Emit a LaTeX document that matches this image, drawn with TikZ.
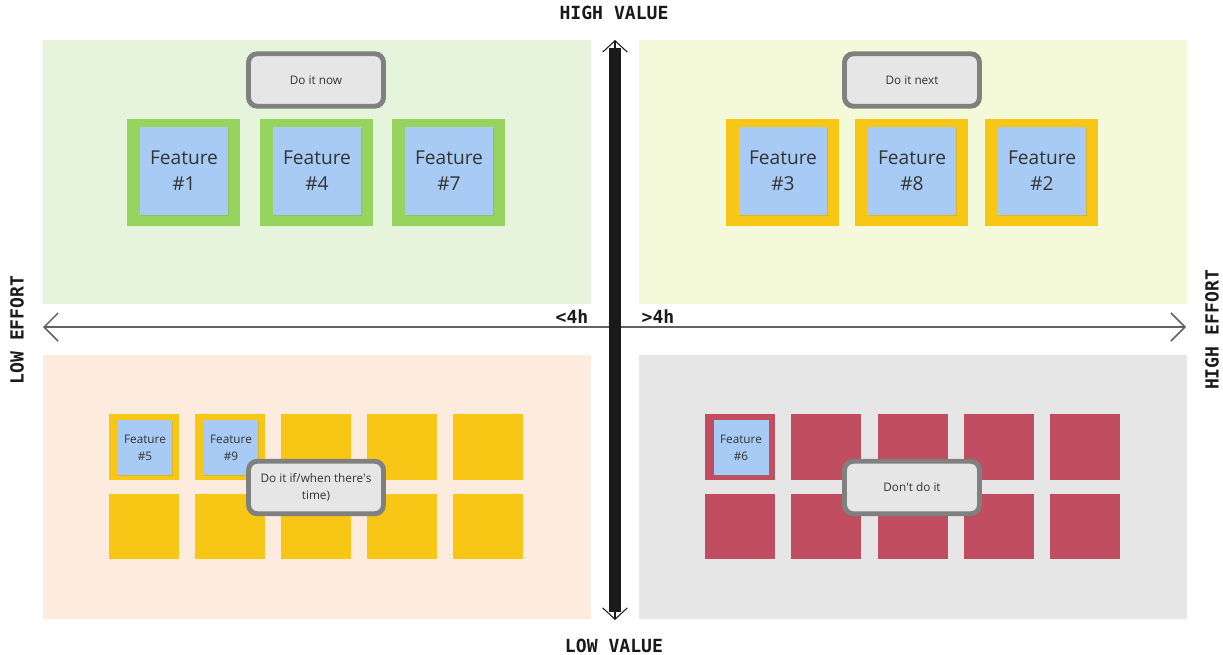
\documentclass[tikz,border=0pt]{standalone}
\usepackage{fontspec}
\setmainfont{Open Sans}
\setmonofont{DejaVu Sans Mono}
\usetikzlibrary{arrows.meta,shadows}

\definecolor{nowbg}{HTML}{E7F4DC}
\definecolor{nextbg}{HTML}{F4F9DA}
\definecolor{laterbg}{HTML}{FDEBDD}
\definecolor{notbg}{HTML}{E6E6E6}
\definecolor{framegreen}{HTML}{97D45E}
\definecolor{frameyellow}{HTML}{F8C614}
\definecolor{framered}{HTML}{C04D60}
\definecolor{stickyblue}{HTML}{A7CBF4}
\definecolor{calloutfill}{HTML}{E6E6E6}
\definecolor{calloutline}{HTML}{808080}
\definecolor{inkgray}{HTML}{333333}
\definecolor{axisink}{HTML}{1A1A1A}

\begin{document}
\begin{tikzpicture}[x=0.02cm,y=-0.02cm,
    quad/.style={inner sep=0pt,minimum width=10.96cm,minimum height=5.28cm,anchor=north west},
    bigframe/.style={inner sep=0pt,minimum width=2.26cm,minimum height=2.14cm},
    smallframe/.style={inner sep=0pt,minimum width=1.4cm,minimum height=1.32cm},
    bigsticky/.style={fill=stickyblue,inner sep=0pt,minimum size=1.76cm,align=center,text=inkgray,
        font=\fontsize{10.9}{14.7}\selectfont,
        drop shadow={opacity=0.25,shadow xshift=0.6pt,shadow yshift=-0.8pt}},
    smallsticky/.style={fill=stickyblue,inner sep=0pt,minimum size=1.1cm,align=center,text=inkgray,
        font=\fontsize{6.7}{9.6}\selectfont,
        drop shadow={opacity=0.25,shadow xshift=0.5pt,shadow yshift=-0.6pt}},
    callout/.style={draw=calloutline,fill=calloutfill,line width=2.8pt,rounded corners=5pt,
        inner sep=0pt,minimum width=2.7cm,minimum height=1.05cm,align=center,text=inkgray,
        font=\fontsize{6.7}{9.6}\selectfont},
    axislabel/.style={inner sep=0pt,text=axisink,font=\ttfamily\bfseries\fontsize{10.3}{12}\selectfont},
    ]
    \useasboundingbox (0,0) rectangle (1223,655);

    % quadrants
    \node[quad,fill=nowbg] (qnow) at (43,40) {};
    \node[quad,fill=nextbg] (qnext) at (639,40) {};
    \node[quad,fill=laterbg] (qlater) at (43,355) {};
    \node[quad,fill=notbg] (qnot) at (639,355) {};

    % high value, low effort
    \node[bigframe,fill=framegreen] (f1) at (183.5,172.5) {};
    \node[bigframe,fill=framegreen] (f4) at (316.5,172.5) {};
    \node[bigframe,fill=framegreen] (f7) at (448.5,172.5) {};
    \node[bigsticky] (s1) at (184,171) {Feature\\\#1};
    \node[bigsticky] (s4) at (317,171) {Feature\\\#4};
    \node[bigsticky] (s7) at (449,171) {Feature\\\#7};
    \node[callout] (now) at (316,80) {Do it now};

    % high value, high effort
    \node[bigframe,fill=frameyellow] (f3) at (782.5,172.5) {};
    \node[bigframe,fill=frameyellow] (f8) at (911.5,172.5) {};
    \node[bigframe,fill=frameyellow] (f2) at (1041.5,172.5) {};
    \node[bigsticky] (s3) at (783,171) {Feature\\\#3};
    \node[bigsticky] (s8) at (912,171) {Feature\\\#8};
    \node[bigsticky] (s2) at (1042,171) {Feature\\\#2};
    \node[callout] (next) at (912,80) {Do it next};

    % low value, low effort
    \node[smallframe,fill=frameyellow] (l11) at (144,447) {};
    \node[smallframe,fill=frameyellow] (l12) at (230,447) {};
    \node[smallframe,fill=frameyellow] (l13) at (316,447) {};
    \node[smallframe,fill=frameyellow] (l14) at (402,447) {};
    \node[smallframe,fill=frameyellow] (l15) at (488,447) {};
    \node[smallframe,fill=frameyellow] (l21) at (144,526.5) {};
    \node[smallframe,fill=frameyellow] (l22) at (230,526.5) {};
    \node[smallframe,fill=frameyellow] (l23) at (316,526.5) {};
    \node[smallframe,fill=frameyellow] (l24) at (402,526.5) {};
    \node[smallframe,fill=frameyellow] (l25) at (488,526.5) {};
    \node[smallsticky] (s5) at (145,447.5) {Feature\\\#5};
    \node[smallsticky] (s9) at (231,447.5) {Feature\\\#9};
    \node[callout] (later) at (316,487.5) {Do it if/when there\textquotesingle s\\time)};

    % low value, high effort
    \node[smallframe,fill=framered] (r11) at (740,447) {};
    \node[smallframe,fill=framered] (r12) at (826,447) {};
    \node[smallframe,fill=framered] (r13) at (912.5,447) {};
    \node[smallframe,fill=framered] (r14) at (998.5,447) {};
    \node[smallframe,fill=framered] (r15) at (1084.5,447) {};
    \node[smallframe,fill=framered] (r21) at (740,526.5) {};
    \node[smallframe,fill=framered] (r22) at (826,526.5) {};
    \node[smallframe,fill=framered] (r23) at (912.5,526.5) {};
    \node[smallframe,fill=framered] (r24) at (998.5,526.5) {};
    \node[smallframe,fill=framered] (r25) at (1084.5,526.5) {};
    \node[smallsticky] (s6) at (741,447.5) {Feature\\\#6};
    \node[callout] (not) at (912,487.5) {Don\textquotesingle t do it};

    % axes
    \coordinate (hleft) at (43,327);
    \coordinate (hright) at (1186,327);
    \draw[draw=black!62,line width=0.85pt,{Straight Barb[length=8pt,width=16pt]}-{Straight Barb[length=8pt,width=16pt]}] (hleft) -- (hright);
    \coordinate (vtop) at (615,40);
    \coordinate (vbot) at (615,620);
    \draw[draw=axisink,line width=0.6pt,{Straight Barb[length=6.5pt,width=14pt]}-{Straight Barb[length=6.5pt,width=14pt]}] (vbot) -- (vtop);
    \node[fill=axisink,inner sep=0pt,minimum width=0.24cm,minimum height=11.3cm] (vbar) at (615,330) {};

    % axis labels
    \node[axislabel] (highval) at (614,13) {HIGH VALUE};
    \node[axislabel] (lowval) at (614,646) {LOW VALUE};
    \node[axislabel,rotate=90] (loweff) at (17,330) {LOW EFFORT};
    \node[axislabel,rotate=90] (higheff) at (1212,330) {HIGH EFFORT};
    \node[axislabel] (under) at (572,317) {<4h};
    \node[axislabel] (over) at (658,317) {>4h};
\end{tikzpicture}
\end{document}
